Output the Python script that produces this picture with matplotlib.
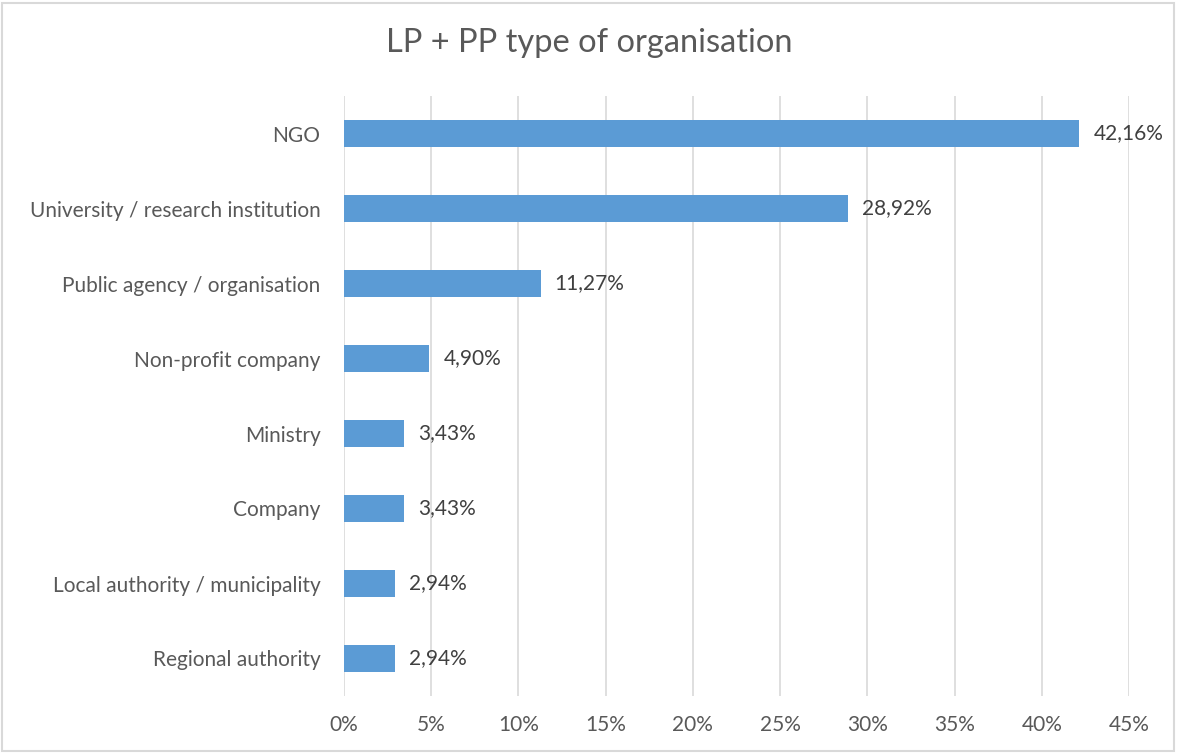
import matplotlib.pyplot as plt
from matplotlib.patches import Rectangle
from matplotlib.ticker import FuncFormatter

categories = ['NGO', 'University / research institution', 'Public agency / organisation',
              'Non-profit company', 'Ministry', 'Company',
              'Local authority / municipality', 'Regional authority']
values = [42.16, 28.92, 11.27, 4.90, 3.43, 3.43, 2.94, 2.94]

plt.rcParams['font.family'] = ['Lato', 'DejaVu Sans']
txt = '#595959'

fig = plt.figure(figsize=(11.78, 7.54), dpi=100)
ax = fig.add_axes([344 / 1178, 1 - 696 / 754, 785 / 1178, 600 / 754])

ypos = list(range(len(categories)))
ax.barh(ypos, values, height=0.37, color='#5B9BD5', zorder=3)
ax.set_yticks(ypos)
ax.set_yticklabels(categories)
ax.set_ylim(len(categories) - 0.5, -0.5)

ax.set_xlim(0, 45)
ax.set_xticks(range(0, 46, 5))
ax.xaxis.set_major_formatter(FuncFormatter(lambda v, p: f'{v:.0f}%'))
ax.grid(axis='x', color='#d9d9d9', linewidth=1.2, zorder=0)

for y, v in zip(ypos, values):
    ax.text(v + 0.8, y, f'{v:.2f}%'.replace('.', ','), va='center', ha='left',
            fontsize=15, color='#404040')

for s in ax.spines.values():
    s.set_visible(False)
ax.tick_params(axis='both', length=0, labelsize=15, labelcolor=txt)
ax.tick_params(axis='y', pad=17)
ax.tick_params(axis='x', pad=14)

fig.text(589 / 1178, 1 - 43 / 754, 'LP + PP type of organisation', ha='center', va='center',
         fontsize=23.5, color=txt)

fig.patches.append(Rectangle((0.002, 0.004), 0.995, 0.992, transform=fig.transFigure,
                             fill=False, edgecolor='#d9d9d9', linewidth=1.5))

fig.savefig('out.png', dpi=100, facecolor='white')
